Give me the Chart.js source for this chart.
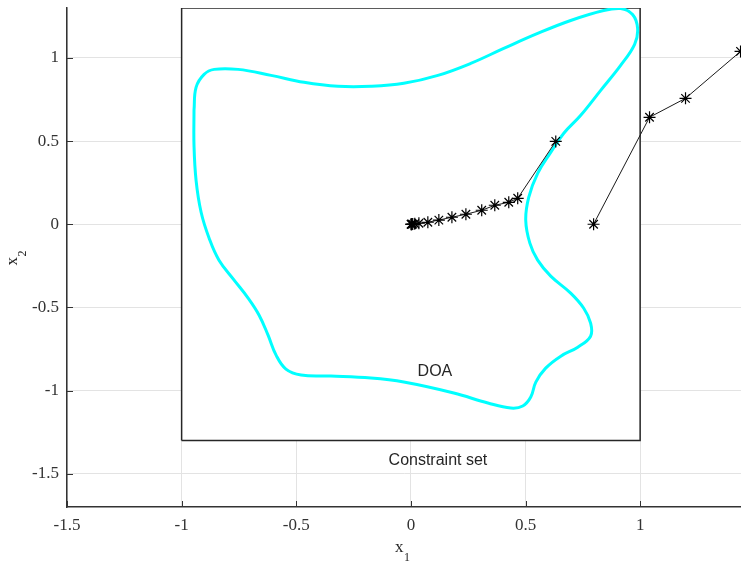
<!DOCTYPE html>
<html>
<head>
<meta charset="utf-8">
<title>DOA</title>
<script src="https://cdn.jsdelivr.net/npm/chart.js@4.4.1/dist/chart.umd.min.js"></script>
<style>
  html, body { margin: 0; padding: 0; background: #fff; }
  #contenedor { width: 741px; height: 564px; }
</style>
</head>
<body>
<div id="contenedor"><canvas id="grafica"></canvas></div>
<script>
//Datos
const xTicks = [-1.5, -1, -0.5, 0, 0.5, 1];
const yTicks = [-1.5, -1, -0.5, 0, 0.5, 1];

//Region de atraccion (DOA)
const doaX = [-0.946, -0.937, -0.902, -0.858, -0.754, -0.610, -0.466, -0.318, -0.174, -0.031, 0.118, 0.261, 0.405, 0.553, 0.697, 0.841, 0.915, 0.967, 0.989, 0.976, 0.915, 0.828, 0.741, 0.667, 0.610, 0.553, 0.514, 0.501, 0.519, 0.553, 0.610, 0.697, 0.754, 0.784, 0.784, 0.728, 0.654, 0.588, 0.545, 0.523, 0.488, 0.436, 0.336, 0.187, -0.031, -0.174, -0.349, -0.479, -0.545, -0.588, -0.623, -0.662, -0.710, -0.771, -0.837, -0.880, -0.915, -0.937, -0.946, -0.946];
const doaY = [0.685, 0.823, 0.901, 0.931, 0.931, 0.895, 0.853, 0.829, 0.829, 0.847, 0.895, 0.967, 1.057, 1.147, 1.225, 1.285, 1.297, 1.261, 1.177, 1.081, 0.955, 0.805, 0.655, 0.547, 0.432, 0.306, 0.162, 0.024, -0.114, -0.216, -0.312, -0.414, -0.505, -0.595, -0.673, -0.739, -0.793, -0.865, -0.949, -1.039, -1.093, -1.105, -1.075, -1.015, -0.949, -0.925, -0.913, -0.907, -0.871, -0.787, -0.667, -0.547, -0.444, -0.336, -0.216, -0.084, 0.072, 0.264, 0.474, 0.685];

//Trayectoria que converge al origen
const tray1X = [0.632, 0.466, 0.427, 0.366, 0.309, 0.240, 0.179, 0.122, 0.074, 0.035, 0.017, 0.008, 0.004, 0.002, 0.001];
const tray1Y = [0.498, 0.156, 0.132, 0.114, 0.084, 0.060, 0.042, 0.025, 0.012, 0.006, 0.003, 0.001, 0.0, 0.0, 0.0];

//Trayectoria que sale
const tray2X = [0.797, 1.041, 1.198, 1.438];
const tray2Y = [0.0, 0.643, 0.757, 1.039];

//Conjunto de restricciones
const cajaX = [-1, -1, 1, 1, -1];
const cajaY = [-1.3, 1.3, 1.3, -1.3, -1.3];

const aPuntos = (xs, ys) => xs.map((x, i) => ({x: x, y: ys[i]}));

const colorEje = '#333333';
const fuenteSerif = '"Liberation Serif", "Times New Roman", serif';
const fuenteSans = '"Liberation Sans", Arial, sans-serif';

//Textos, marcas interiores y titulos de los ejes
const extras = {
    id: 'extras',
    afterDatasetsDraw(chart) {
        const ctx = chart.ctx;
        const sx = chart.scales.x, sy = chart.scales.y;
        ctx.save();
        ctx.fillStyle = '#262626';
        ctx.font = '16px ' + fuenteSans;
        ctx.textAlign = 'center';
        ctx.textBaseline = 'middle';
        ctx.fillText('DOA', sx.getPixelForValue(0.105), sy.getPixelForValue(-0.883));
        ctx.fillText('Constraint set', sx.getPixelForValue(0.118), sy.getPixelForValue(-1.423));
        ctx.restore();
    },
    afterDraw(chart) {
        const ctx = chart.ctx;
        const a = chart.chartArea;
        const sx = chart.scales.x, sy = chart.scales.y;
        ctx.save();
        ctx.strokeStyle = colorEje;
        ctx.lineWidth = 1;
        ctx.beginPath();
        xTicks.forEach(function(v) {
            const px = Math.round(sx.getPixelForValue(v)) + 0.5;
            ctx.moveTo(px, a.bottom);
            ctx.lineTo(px, a.bottom - 6);
        });
        yTicks.forEach(function(v) {
            const py = Math.round(sy.getPixelForValue(v)) + 0.5;
            ctx.moveTo(a.left, py);
            ctx.lineTo(a.left + 6, py);
        });
        ctx.stroke();

        //Titulo eje x
        ctx.fillStyle = '#262626';
        ctx.textBaseline = 'alphabetic';
        ctx.textAlign = 'left';
        const cx = (a.left + a.right) / 2;
        ctx.font = '17px ' + fuenteSerif;
        ctx.fillText('x', cx - 9, 552);
        ctx.font = '12px ' + fuenteSerif;
        ctx.fillText('1', cx, 561);

        //Titulo eje y
        ctx.translate(17, (a.top + a.bottom) / 2 + 8);
        ctx.rotate(-Math.PI / 2);
        ctx.font = '17px ' + fuenteSerif;
        ctx.fillText('x', 0, 0);
        ctx.font = '12px ' + fuenteSerif;
        ctx.fillText('2', 9, 9);
        ctx.restore();
    }
};

const config = {
    type: 'scatter',
    data: {
        datasets: [{
            //relleno blanco de la caja (tapa la rejilla)
            data: [{x: -1, y: 1.3}, {x: 1, y: 1.3}],
            showLine: true,
            borderWidth: 0,
            pointRadius: 0,
            backgroundColor: '#ffffff',
            fill: {target: {value: -1.3}},
            order: 5
        }, {
            data: aPuntos(cajaX, cajaY),
            showLine: true,
            borderColor: '#262626',
            borderWidth: 1.5,
            pointRadius: 0,
            fill: false,
            order: 4
        }, {
            data: aPuntos(doaX, doaY),
            showLine: true,
            borderColor: '#00ffff',
            borderWidth: 3,
            tension: 0.4,
            pointRadius: 0,
            fill: false,
            order: 3
        }, {
            data: aPuntos(tray1X, tray1Y),
            showLine: true,
            borderColor: '#1a1a1a',
            borderWidth: 1,
            pointStyle: 'star',
            pointRadius: 6,
            pointBorderWidth: 1.2,
            pointBorderColor: '#000',
            fill: false,
            order: 2
        }, {
            data: aPuntos(tray2X, tray2Y),
            showLine: true,
            borderColor: '#1a1a1a',
            borderWidth: 1,
            pointStyle: 'star',
            pointRadius: 6,
            pointBorderWidth: 1.2,
            pointBorderColor: '#000',
            fill: false,
            order: 1
        }]
    },
    options: {
        responsive: true,
        maintainAspectRatio: false,
        animation: false,
        layout: { autoPadding: false, padding: { top: 8, right: 0, left: 0, bottom: 0 } },
        plugins: {
            legend: { display: false },
            tooltip: { enabled: false }
        },
        scales: {
            x: {
                type: 'linear',
                min: -1.5,
                max: 1.44,
                afterBuildTicks: function(scale) { scale.ticks = xTicks.map(v => ({value: v})); },
                afterFit: function(scale) {
                    scale.height = 57;
                    scale.paddingLeft = 0;
                    scale.paddingRight = 0;
                },
                grid: { color: '#e3e3e3', lineWidth: 1, drawTicks: false },
                border: { display: true, color: colorEje, width: 1.5 },
                ticks: {
                    padding: 8,
                    color: '#333',
                    font: { family: fuenteSerif, size: 17 },
                    callback: v => String(v)
                }
            },
            y: {
                type: 'linear',
                min: -1.7,
                max: 1.3,
                afterBuildTicks: function(scale) { scale.ticks = yTicks.map(v => ({value: v})); },
                afterFit: function(scale) {
                    scale.width = 67;
                    scale.paddingTop = 0;
                    scale.paddingBottom = 0;
                },
                grid: { color: '#e3e3e3', lineWidth: 1, drawTicks: false },
                border: { display: true, color: colorEje, width: 1.5 },
                ticks: {
                    padding: 8,
                    color: '#333',
                    font: { family: fuenteSerif, size: 17 },
                    callback: v => String(v)
                }
            }
        }
    },
    plugins: [extras]
};

const myChart = new Chart(document.getElementById('grafica'), config);
</script>
</body>
</html>
